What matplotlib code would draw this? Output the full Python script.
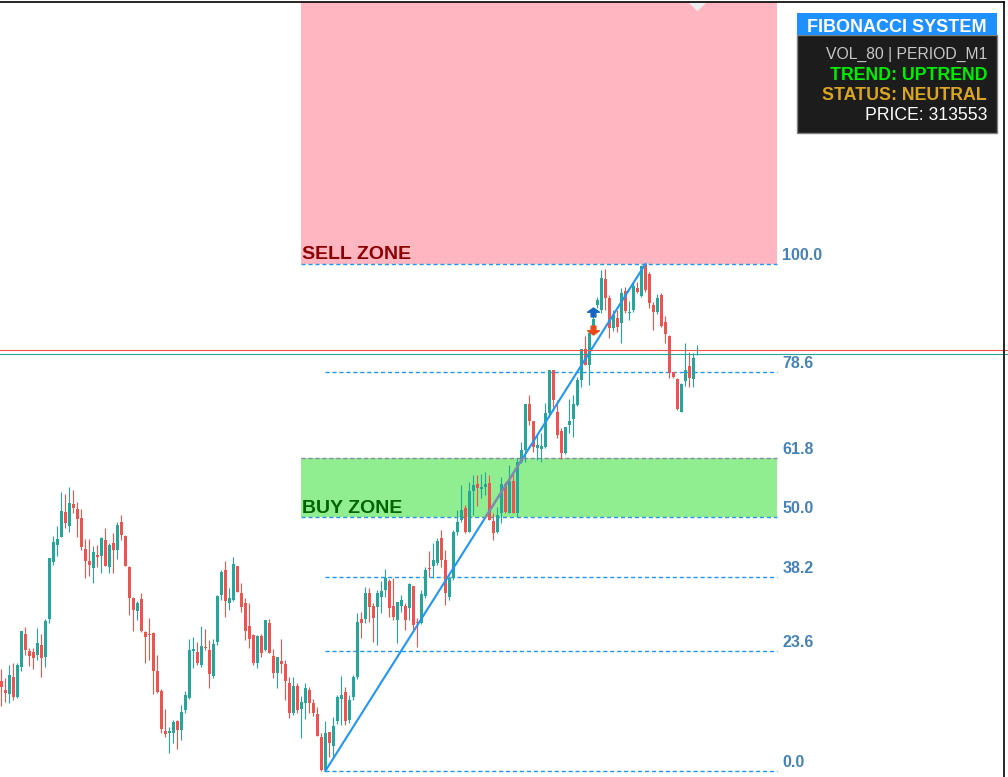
import matplotlib
matplotlib.use("Agg")
import matplotlib.pyplot as plt
import numpy as np
from matplotlib.patches import Rectangle
from matplotlib.path import Path

plt.rcParams['font.family'] = ['Liberation Sans', 'DejaVu Sans']

# M1 K线数据 (开/高/低/收)
opens = [
    313226, 313217, 313213, 313230, 313210, 313240, 313273, 313256, 313255, 313252,
    313262, 313250, 313288, 313345, 313362, 313370, 313395, 313381, 313403, 313398,
    313389, 313358, 313346, 313339, 313352, 313351, 313367, 313340, 313364, 313357,
    313385, 313371, 313340, 313309, 313296, 313308, 313275, 313273, 313274, 313236,
    313216, 313176, 313174, 313174, 313186, 313177, 313197, 313209, 313256, 313255,
    313242, 313260, 313257, 313231, 313265, 313312, 313337, 313304, 313307, 313341,
    313314, 313304, 313281, 313272, 313244, 313271, 313257, 313284, 313251, 313234,
    313246, 313243, 313224, 313194, 313221, 313198, 313204, 313217, 313204, 313193,
    313170, 313137, 313175, 313161, 313186, 313208, 313215, 313187, 313210, 313230,
    313288, 313288, 313314, 313301, 313300, 313310, 313317, 313326, 313301, 313287,
    313301, 313301, 313299, 313321, 313285, 313284, 313311, 313339, 313341, 313344,
    313369, 313347, 313310, 313329, 313375, 313387, 313399, 313375, 313416, 313423,
    313418, 313420, 313424, 313386, 313375, 313394, 313423, 313394, 313426, 313394,
    313445, 313457, 313503, 313486, 313459, 313458, 313460, 313494, 313537, 313495,
    313476, 313454, 313482, 313488, 313502, 313527, 313558, 313542, 313575, 313602,
    313597, 313628, 313609, 313579, 313589, 313584, 313616, 313594, 313597, 313619,
    313611, 313643, 313633, 313602, 313595, 313612, 313585, 313571, 313535, 313528,
    313495, 313526, 313541, 313528, 313552,
]
highs = [
    313238, 313229, 313242, 313244, 313244, 313276, 313280, 313259, 313259, 313279,
    313273, 313288, 313349, 313371, 313381, 313415, 313413, 313420, 313417, 313405,
    313398, 313368, 313368, 313361, 313362, 313370, 313379, 313364, 313374, 313385,
    313392, 313372, 313341, 313310, 313306, 313314, 313276, 313289, 313275, 313252,
    313218, 313198, 313180, 313187, 313187, 313202, 313216, 313268, 313270, 313265,
    313281, 313278, 313267, 313268, 313312, 313337, 313346, 313319, 313350, 313341,
    313324, 313309, 313304, 313273, 313272, 313273, 313287, 313288, 313258, 313250,
    313268, 313247, 313230, 313230, 313224, 313211, 313224, 313220, 313208, 313200,
    313174, 313186, 313175, 313190, 313212, 313231, 313220, 313212, 313232, 313294,
    313295, 313320, 313319, 313304, 313317, 313326, 313338, 313328, 313329, 313305,
    313312, 313304, 313324, 313321, 313289, 313317, 313340, 313356, 313364, 313369,
    313377, 313357, 313331, 313377, 313397, 313422, 313402, 313425, 313432, 313432,
    313433, 313435, 313432, 313394, 313400, 313430, 313425, 313442, 313435, 313449,
    313465, 313503, 313512, 313486, 313472, 313474, 313504, 313537, 313537, 313507,
    313479, 313480, 313508, 313512, 313530, 313558, 313571, 313576, 313600, 313610,
    313637, 313638, 313612, 313597, 313597, 313619, 313620, 313606, 313625, 313625,
    313642, 313643, 313635, 313605, 313613, 313614, 313591, 313572, 313535, 313529,
    313524, 313564, 313555, 313554, 313562,
]
lows = [
    313201, 313205, 313204, 313207, 313209, 313236, 313252, 313241, 313238, 313247,
    313230, 313240, 313284, 313342, 313351, 313370, 313379, 313375, 313394, 313370,
    313357, 313329, 313331, 313324, 313340, 313334, 313341, 313334, 313334, 313348,
    313367, 313341, 313292, 313276, 313287, 313275, 313244, 313247, 313213, 313214,
    313174, 313170, 313154, 313164, 313158, 313167, 313194, 313208, 313239, 313242,
    313240, 313257, 313219, 313229, 313262, 313307, 313290, 313297, 313306, 313315,
    313295, 313267, 313259, 313242, 313239, 313250, 313256, 313254, 313229, 313219,
    313234, 313207, 313189, 313192, 313194, 313169, 313188, 313194, 313191, 313171,
    313136, 313136, 313150, 313150, 313183, 313182, 313182, 313184, 313207, 313228,
    313269, 313284, 313285, 313265, 313262, 313294, 313310, 313290, 313287, 313264,
    313295, 313277, 313287, 313277, 313260, 313283, 313309, 313330, 313329, 313342,
    313340, 313302, 313307, 313327, 313372, 313385, 313374, 313375, 313392, 313401,
    313409, 313412, 313387, 313367, 313374, 313384, 313394, 313394, 313394, 313390,
    313444, 313445, 313482, 313455, 313447, 313445, 313459, 313490, 313500, 313469,
    313448, 313453, 313474, 313470, 313501, 313520, 313542, 313522, 313572, 313599,
    313594, 313597, 313569, 313576, 313575, 313564, 313594, 313587, 313595, 313614,
    313610, 313615, 313599, 313577, 313593, 313580, 313564, 313529, 313529, 313497,
    313495, 313521, 313520, 313520, 313552,
]
closes = [
    313220, 313214, 313232, 313210, 313242, 313276, 313257, 313251, 313249, 313264,
    313249, 313286, 313349, 313365, 313368, 313396, 313384, 313404, 313399, 313388,
    313360, 313346, 313342, 313355, 313350, 313369, 313341, 313362, 313357, 313382,
    313372, 313341, 313309, 313297, 313304, 313276, 313270, 313272, 313236, 313215,
    313178, 313173, 313176, 313185, 313177, 313195, 313212, 313257, 313258, 313244,
    313261, 313259, 313233, 313263, 313311, 313335, 313306, 313309, 313343, 313315,
    313300, 313276, 313268, 313244, 313271, 313254, 313287, 313254, 313234, 313250,
    313243, 313226, 313194, 313221, 313197, 313205, 313219, 313204, 313194, 313171,
    313137, 313174, 313164, 313181, 313210, 313212, 313186, 313207, 313230, 313285,
    313284, 313314, 313300, 313289, 313314, 313316, 313329, 313299, 313290, 313305,
    313307, 313287, 313323, 313282, 313284, 313313, 313337, 313338, 313347, 313366,
    313347, 313314, 313329, 313375, 313385, 313397, 313375, 313416, 313422, 313419,
    313420, 313423, 313387, 313374, 313392, 313423, 313395, 313426, 313394, 313445,
    313457, 313503, 313486, 313460, 313462, 313461, 313494, 313537, 313507, 313472,
    313454, 313480, 313486, 313503, 313527, 313558, 313542, 313574, 313588, 313607,
    313629, 313609, 313579, 313592, 313580, 313614, 313596, 313595, 313621, 313615,
    313641, 313617, 313604, 313595, 313609, 313581, 313573, 313534, 313530, 313498,
    313523, 313537, 313529, 313549, 313553,
]

# 斐波那契
fib_levels = [0.0, 23.6, 38.2, 50.0, 61.8, 78.6, 100.0]
fib_labels = ['0.0', '23.6', '38.2', '50.0', '61.8', '78.6', '100.0']
swing_low_bar = 81
swing_high_bar = 161
zone_left_bar = 75
zone_right_bar = 194

# 信号箭头
signal_bar = 148
signal_up_price = 313595
signal_down_price = 313577

bid = 313553
ask = 313557

panel_title = 'FIBONACCI SYSTEM'
panel_rows = ['VOL_80 | PERIOD_M1', 'TREND: UPTREND', 'STATUS: NEUTRAL', 'PRICE: %d' % bid]

TEAL = '#26A69A'
RED = '#EF5350'
BLUE = '#2196F3'

W, H = 1008, 777
fig = plt.figure(figsize=(W / 100, H / 100), dpi=100)
ax = fig.add_axes([0, 0, 1, 1])
ax.set_xlim(-1 / 3, 252 - 1 / 3)
ax.set_ylim(313130, 313907)
ax.axis('off')

o = np.array(opens, dtype=float)
h = np.array(highs, dtype=float)
l = np.array(lows, dtype=float)
c = np.array(closes, dtype=float)
x = np.arange(len(o))
col = np.where(c >= o, TEAL, RED)

# 区域
lo, hi = l.min(), h.max()
rng = hi - lo
lvl = {f: lo + rng * f / 100 for f in fib_levels}
top = 313905
zw = zone_right_bar - zone_left_bar
ax.add_patch(Rectangle((zone_left_bar, lvl[100.0]), zw, top - lvl[100.0],
                       facecolor='#FFB6C1', edgecolor='none', zorder=1))
ax.add_patch(Rectangle((zone_left_bar, lvl[50.0]), zw, lvl[61.8] - lvl[50.0],
                       facecolor='#90EE90', edgecolor='none', zorder=1))

# 斐波那契线
for f, lab in zip(fib_levels, fib_labels):
    start = zone_left_bar if f in (50.0, 61.8, 100.0) else swing_low_bar
    lc = '#8C86A8' if f == 61.8 else BLUE
    ax.plot([start, zone_right_bar], [lvl[f], lvl[f]], color=lc, lw=1.0,
            linestyle=(0, (3, 2)), zorder=2)
    ax.text(zone_right_bar + 1.2, lvl[f] + 4, lab, color='#4682B4', fontsize=11.5,
            fontweight='bold', va='baseline', ha='left', zorder=7)

ax.text(zone_left_bar + 0.1, lvl[100.0] + 5, 'SELL ZONE', color='#8B0000', fontsize=14,
        fontweight='bold', va='baseline', ha='left', zorder=7)
ax.text(zone_left_bar + 0.1, lvl[50.0] + 4.5, 'BUY ZONE', color='#006400', fontsize=14,
        fontweight='bold', va='baseline', ha='left', zorder=7)

# K线
ax.vlines(x, l, h, colors=col, linewidth=0.8, zorder=3)
ax.bar(x, np.maximum(np.abs(c - o), 1.2), bottom=np.minimum(o, c), width=0.75,
       color=col, linewidth=0, zorder=4)

# 趋势线
ax.plot([swing_low_bar, swing_high_bar], [lo, hi], color=BLUE, lw=1.5, zorder=5)
t = np.array([0.5, 0.618])
ax.plot(swing_low_bar + t * (swing_high_bar - swing_low_bar), lo + t * rng,
        color='#8C86A8', lw=1.5, zorder=5.1)

# 买卖价线
ax.axhline(ask, color=RED, lw=0.8, zorder=6)
ax.axhline(bid, color=TEAL, lw=0.8, zorder=6)

# 信号箭头
up_arrow = Path([(0, 0.75), (1, 0.05), (0.4, 0.05), (0.4, -0.75), (-0.4, -0.75),
                 (-0.4, 0.05), (-1, 0.05), (0, 0.75)])
down_arrow = Path([(0, -0.75), (1, -0.05), (0.4, -0.05), (0.4, 0.75), (-0.4, 0.75),
                   (-0.4, -0.05), (-1, -0.05), (0, -0.75)])
ax.plot(signal_bar, signal_up_price, marker=up_arrow, ms=8.5, color='#1565C0', zorder=8)
ax.plot(signal_bar, signal_down_price, marker=down_arrow, ms=8.5, color='#E64A19', zorder=8)

# 图表右移标记
shift_mark = Path([(-1, 0.5), (1, 0.5), (0, -0.5), (-1, 0.5)])
ax.plot(len(o) - 1, 313901, marker=shift_mark, ms=11, color='#EDEDF2', zorder=8)


def fx(px):
    return px / W


def fy(py):
    return 1 - py / H


# 边框
fig.add_artist(plt.Line2D([0, fx(1004)], [fy(2), fy(2)], color='black', lw=1.2))
fig.add_artist(plt.Line2D([fx(1004), fx(1004)], [0, fy(2)], color='black', lw=1.2))

# 信息面板
fig.add_artist(Rectangle((fx(797), fy(133)), fx(200), 98 / H, transform=fig.transFigure,
                         facecolor='#1C1C1C', edgecolor='#808080', lw=1))
fig.add_artist(Rectangle((fx(797), fy(35)), fx(200), 22 / H, transform=fig.transFigure,
                         facecolor='#1E90FF', edgecolor='none'))
fig.text(fx(987), fy(31.5), panel_title, color='white', fontsize=13, fontweight='bold',
         ha='right', va='baseline')
row_colors = ['#C8C8C8', '#00EE00', '#DAA520', 'white']
row_weights = ['normal', 'bold', 'bold', 'normal']
row_sizes = [11.3, 12.8, 12.8, 12.7]
row_base = [58.5, 80, 100, 120]
for txt, rc, rw, rs, rb in zip(panel_rows, row_colors, row_weights, row_sizes, row_base):
    fig.text(fx(987), fy(rb), txt, color=rc, fontsize=rs, fontweight=rw,
             ha='right', va='baseline')

plt.savefig('out.png', dpi=100)
